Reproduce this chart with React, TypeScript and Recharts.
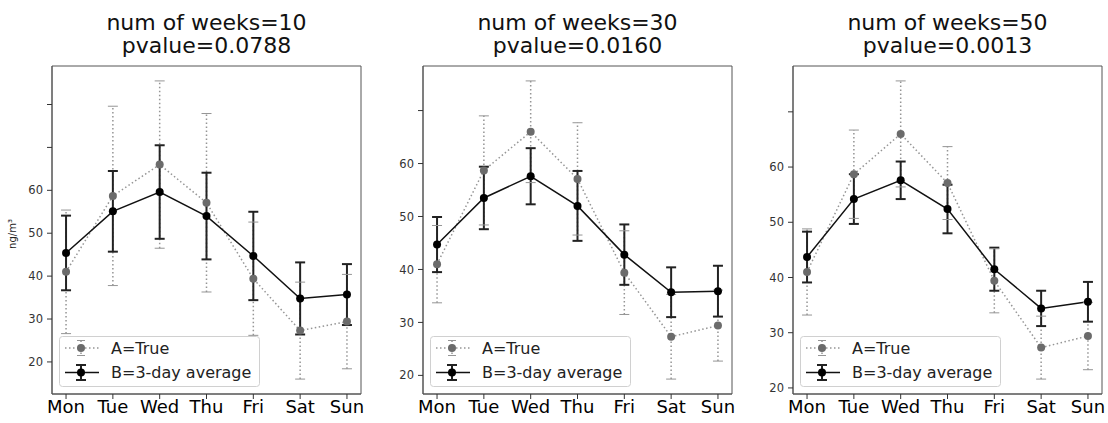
import React from "react";
import { ComposedChart, Line, XAxis, YAxis, ErrorBar, Legend, Label, ReferenceArea } from "recharts";

const days = ["Mon", "Tue", "Wed", "Thu", "Fri", "Sat", "Sun"];
const weeks = [10, 30, 50];
const pvalues = ["0.0788", "0.0160", "0.0013"];

// A=True (same means in every panel, error shrinks with more weeks)
const aMean = [41.0, 58.7, 66.0, 57.1, 39.4, 27.3, 29.4];
const aErr10 = [14.4, 20.9, 19.5, 20.8, 13.2, 11.3, 11.0];
const aErr30 = [7.3, 10.3, 9.6, 10.6, 7.9, 8.0, 6.7];
const aErr50 = [7.8, 8.0, 9.6, 6.6, 5.8, 5.7, 6.1];

// B=3-day average
const bMean10 = [45.4, 55.1, 59.6, 54.0, 44.7, 34.8, 35.7];
const bErr10 = [8.7, 9.4, 10.9, 10.1, 10.3, 8.4, 7.1];
const bMean30 = [44.7, 53.5, 57.6, 52.0, 42.8, 35.7, 35.9];
const bErr30 = [5.2, 5.9, 5.3, 6.6, 5.7, 4.7, 4.8];
const bMean50 = [43.7, 54.2, 57.6, 52.4, 41.5, 34.4, 35.6];
const bErr50 = [4.6, 4.5, 3.4, 4.4, 3.9, 3.2, 3.6];

const yTicks = [20, 30, 40, 50, 60, 70, 80];
const labeledMax = 60;

const panels = [
  { aErr: aErr10, bMean: bMean10, bErr: bErr10 },
  { aErr: aErr30, bMean: bMean30, bErr: bErr30 },
  { aErr: aErr50, bMean: bMean50, bErr: bErr50 },
];

const FONT = "'DejaVu Sans', sans-serif";
const PLOT_LEFTS = [52, 423, 793];
const PLOT_W = 309;
const PLOT_TOP = 66;
const PLOT_H = 328;
const Y_AXIS_W = 52;
const CHART_W = Y_AXIS_W + PLOT_W + 5;
const CHART_H = 423;
const X_DOMAIN: [number, number] = [-0.3, 6.3];

const GRAY_DOT = "#6b6b6b";
const GRAY_LINE = "#959595";
const FRAME = "#555";

const capDot = (color: string, w: number) => (props: any) => {
  const { cx, cy, index } = props;
  if (cx == null || cy == null) return <g key={`c${index}`} />;
  return (
    <line
      key={`c${index}`}
      x1={cx - w}
      x2={cx + w}
      y1={cy}
      y2={cy}
      stroke={color}
      strokeWidth={1}
    />
  );
};

function LegendBox() {
  return (
    <svg width={201} height={51} style={{ display: "block", fontFamily: FONT }}>
      <rect x={0.5} y={0.5} width={200} height={50} rx={3} fill="#fff" fillOpacity={0.85} stroke="#d0d0d0" />
      <line x1={6} x2={40} y1={12} y2={12} stroke={GRAY_LINE} strokeWidth={1.5} strokeDasharray="1.5 2.5" />
      <line x1={22} x2={22} y1={4.5} y2={19.5} stroke={GRAY_LINE} strokeWidth={1.5} strokeDasharray="1.5 2.5" />
      <line x1={18} x2={26} y1={4.5} y2={4.5} stroke={GRAY_LINE} />
      <line x1={18} x2={26} y1={19.5} y2={19.5} stroke={GRAY_LINE} />
      <circle cx={22} cy={12} r={4} fill={GRAY_DOT} />
      <text x={52} y={17.5} fontSize={16} fill="#222">A=True</text>
      <line x1={6} x2={40} y1={36.5} y2={36.5} stroke="#111" strokeWidth={1.5} />
      <line x1={22} x2={22} y1={29} y2={44} stroke="#222" strokeWidth={2} />
      <line x1={17} x2={27} y1={29} y2={29} stroke="#222" strokeWidth={2} />
      <line x1={17} x2={27} y1={44} y2={44} stroke="#222" strokeWidth={2} />
      <circle cx={22} cy={36.5} r={4} fill="#000" />
      <text x={52} y={42} fontSize={16} fill="#222">B=3-day average</text>
    </svg>
  );
}

function Panel({ idx }: { idx: number }) {
  const p = panels[idx];
  const data = days.map((d, i) => ({
    x: i,
    a: aMean[i],
    aErr: p.aErr[i],
    aHi: aMean[i] + p.aErr[i],
    aLo: aMean[i] - p.aErr[i],
    b: p.bMean[i],
    bErr: p.bErr[i],
  }));
  const lows = data.flatMap((r) => [r.a - r.aErr, r.b - r.bErr]);
  const highs = data.flatMap((r) => [r.a + r.aErr, r.b + r.bErr]);
  const lo = Math.min(...lows);
  const hi = Math.max(...highs);
  const pad = (hi - lo) * 0.05;
  const domain: [number, number] = [lo - pad, hi + pad];
  const ticks = yTicks.filter((t) => t >= domain[0] && t <= domain[1]);
  const left = PLOT_LEFTS[idx] - Y_AXIS_W;

  return (
    <>
      <div
        style={{
          position: "absolute",
          left: PLOT_LEFTS[idx] - 40,
          width: PLOT_W + 80,
          top: 10.5,
          textAlign: "center",
          fontFamily: FONT,
          fontSize: 22,
          lineHeight: "23.3px",
          color: "#111",
        }}
      >
        <div>num of weeks={weeks[idx]}</div>
        <div>pvalue={pvalues[idx]}</div>
      </div>
      <div style={{ position: "absolute", left, top: 0 }}>
        <ComposedChart
          width={CHART_W}
          height={CHART_H}
          data={data}
          margin={{ top: PLOT_TOP, right: 5, bottom: 0, left: 0 }}
          style={{ fontFamily: FONT }}
        >
          <XAxis
            xAxisId="x"
            type="number"
            dataKey="x"
            domain={X_DOMAIN}
            ticks={[0, 1, 2, 3, 4, 5, 6]}
            interval={0}
            tickFormatter={(v: number) => days[v]}
            height={CHART_H - PLOT_TOP - PLOT_H}
            tick={{ fontSize: 18, fill: "#000" }}
            tickSize={5}
            tickMargin={1}
            axisLine={{ stroke: FRAME }}
            tickLine={{ stroke: "#333" }}
            allowDataOverflow
          />
          <YAxis
            yAxisId="y"
            type="number"
            domain={domain}
            ticks={ticks}
            interval={0}
            width={Y_AXIS_W}
            allowDataOverflow
            tickFormatter={(v: number) => (v <= labeledMax ? String(v) : "")}
            tick={{ fontSize: 11.5, fill: "#333" }}
            tickSize={5}
            tickMargin={4}
            axisLine={{ stroke: FRAME }}
            tickLine={{ stroke: "#333" }}
          >
            {idx === 0 && (
              <Label
                content={(lp: any) => {
                  const vb = lp.viewBox || {};
                  const cx = (vb.x ?? 0) + 16;
                  const cy = (vb.y ?? 0) + (vb.height ?? 0) / 2 + 4;
                  return (
                    <text
                      x={cx}
                      y={cy}
                      transform={`rotate(-90 ${cx} ${cy})`}
                      textAnchor="middle"
                      fontSize={10}
                      fill="#222"
                      fontFamily={FONT}
                    >
                      ng/m³
                    </text>
                  );
                }}
              />
            )}
          </YAxis>
          <ReferenceArea
            xAxisId="x"
            yAxisId="y"
            x1={X_DOMAIN[0]}
            x2={X_DOMAIN[1]}
            y1={domain[0]}
            y2={domain[1]}
            fill="none"
            stroke={FRAME}
            strokeWidth={1}
            ifOverflow="visible"
          />
          <Line
            xAxisId="x"
            yAxisId="y"
            dataKey="aHi"
            stroke="none"
            dot={capDot(GRAY_LINE, 5)}
            activeDot={false}
            legendType="none"
            isAnimationActive={false}
          />
          <Line
            xAxisId="x"
            yAxisId="y"
            dataKey="aLo"
            stroke="none"
            dot={capDot(GRAY_LINE, 5)}
            activeDot={false}
            legendType="none"
            isAnimationActive={false}
          />
          <Line
            xAxisId="x"
            yAxisId="y"
            dataKey="a"
            name="A=True"
            stroke={GRAY_LINE}
            strokeWidth={1.5}
            strokeDasharray="1.5 2.5"
            dot={{ r: 4, fill: GRAY_DOT, stroke: GRAY_DOT, strokeWidth: 0, strokeDasharray: "0" }}
            activeDot={false}
            isAnimationActive={false}
          >
            <ErrorBar
              dataKey="aErr"
              width={0}
              direction="y"
              stroke={GRAY_LINE}
              strokeWidth={1.5}
              strokeDasharray="1.5 2.5"
            />
          </Line>
          <Line
            xAxisId="x"
            yAxisId="y"
            dataKey="b"
            name="B=3-day average"
            stroke="#111"
            strokeWidth={1.5}
            dot={{ r: 4, fill: "#000", stroke: "#000", strokeWidth: 0 }}
            activeDot={false}
            isAnimationActive={false}
          >
            <ErrorBar dataKey="bErr" width={5} direction="y" stroke="#222" strokeWidth={2} />
          </Line>
          <Legend
            layout="vertical"
            verticalAlign="middle"
            align="center"
            content={() => <LegendBox />}
            wrapperStyle={{
              position: "absolute",
              left: Y_AXIS_W + 7,
              top: PLOT_TOP + PLOT_H - 7 - 51,
              width: 201,
              height: 51,
              margin: 0,
            }}
          />
        </ComposedChart>
      </div>
    </>
  );
}

export default function App() {
  return (
    <div
      style={{
        position: "absolute",
        left: 0,
        top: 0,
        width: 1108,
        height: 423,
        background: "#fff",
        overflow: "hidden",
      }}
    >
      <Panel idx={0} />
      <Panel idx={1} />
      <Panel idx={2} />
    </div>
  );
}
